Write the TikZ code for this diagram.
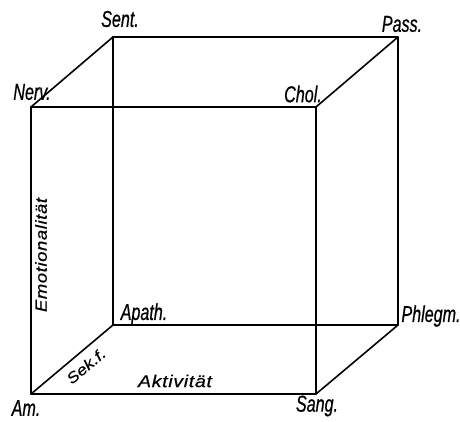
\documentclass[tikz,border=0pt]{standalone}
\usepackage{fontspec}
\newfontfamily\labfont[FakeStretch=0.7,FakeBold=0.6]{Liberation Sans}
\newfontfamily\axfont[FakeStretch=1.15,LetterSpace=4,FakeBold=0.6]{Liberation Sans}
\newfontfamily\sekfont[FakeStretch=1.2,FakeBold=0.6]{Liberation Sans}
\begin{document}
\begin{tikzpicture}[x=1pt,y=-1pt,
  edge/.style={line width=1.6pt,line cap=round,line join=round},
  corner/.style={inner sep=0pt,font=\labfont\itshape\fontsize{23}{23}\selectfont},
  axis/.style={inner sep=0pt,font=\axfont\itshape\fontsize{17}{17}\selectfont}]
\useasboundingbox (0,0) rectangle (460,421);
% front face
\coordinate (nerv) at (31,107);
\coordinate (chol) at (316,107);
\coordinate (am) at (31,394);
\coordinate (sang) at (316,394);
% back face
\coordinate (sent) at (113,37);
\coordinate (pass) at (398,37);
\coordinate (apath) at (113,325);
\coordinate (phlegm) at (398,325);
% edges
\draw[edge] (nerv) -- (chol) -- (sang) -- (am) -- cycle;
\draw[edge] (sent) -- (pass) -- (phlegm) -- (apath) -- cycle;
\draw[edge] (nerv) -- (sent);
\draw[edge] (chol) -- (pass);
\draw[edge] (sang) -- (phlegm);
\draw[edge] (am) -- (apath);
% corner labels
\node[corner] (lsent) at (120,19) {Sent.};
\node[corner] (lpass) at (402,24) {Pass.};
\node[corner] (lnerv) at (32,92) {Nerv.};
\node[corner] (lchol) at (303,94) {Chol.};
\node[corner] (lapath) at (144,314) {Apath.};
\node[corner] (lphlegm) at (431,316) {Phlegm.};
\node[corner] (lam) at (26,408) {Am.};
\node[corner] (lsang) at (317,406) {Sang.};
% axis labels
\node[axis] (akt) at (175,381) {Aktivität};
\node[axis,font=\axfont\itshape\fontsize{16}{16}\selectfont,rotate=90] (emo) at (41,255) {Emotionalität};
\node[inner sep=0pt,font=\sekfont\itshape\fontsize{15}{15}\selectfont,rotate=40] (sek) at (86,366) {Sek.f.};
\end{tikzpicture}
\end{document}
